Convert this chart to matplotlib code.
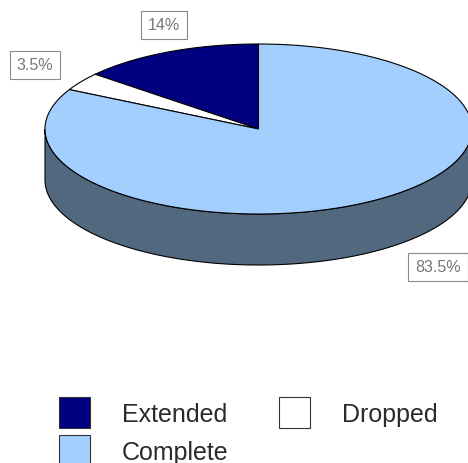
import matplotlib

matplotlib.use("Agg")

import matplotlib.pyplot as plt
import numpy as np
from matplotlib.patches import Polygon, Rectangle

categories = ["Extended", "Dropped", "Complete"]
shares = [14.0, 3.5, 83.5]
labels = ["14%", "3.5%", "83.5%"]
top_colors = ["#000080", "#ffffff", "#a3cfff"]
side_colors = ["#00004a", "#9a9a9a", "#52687f"]

# pie geometry in pixel units (y grows downwards)
cx, cy = 258.5, 130.0
rx, ry = 213.5, 85.0
depth = 51.0


def ellipse_pts(t0, t1, dy=0.0, n=200):
    t = np.radians(np.linspace(t0, t1, n))
    return np.column_stack([cx + rx * np.cos(t), cy - ry * np.sin(t) + dy])


fig = plt.figure(figsize=(4.68, 4.64), dpi=100)
ax = fig.add_axes([0, 0, 1, 1])
ax.set_xlim(0, 468)
ax.set_ylim(464, 0)
ax.axis("off")

# slice angles, counter-clockwise from twelve o'clock
# (rounded shares add up to 101, so normalise by the total)
frac = np.cumsum(shares) / np.sum(shares)
bounds = 90 + 360 * np.concatenate([[0], frac])

# visible side wall: front half (180..360 deg), split by slice
for i in range(len(shares)):
    a0, a1 = bounds[i], bounds[i + 1]
    for off in (0, 360, -360):
        s0, s1 = max(a0 + off, 180), min(a1 + off, 360)
        if s1 > s0:
            top = ellipse_pts(s0, s1)
            bot = ellipse_pts(s1, s0, dy=depth)
            ax.add_patch(Polygon(np.vstack([top, bot]), closed=True,
                                 facecolor=side_colors[i], edgecolor="black",
                                 linewidth=0.8, zorder=1))

# top face
for i in range(len(shares)):
    arc = ellipse_pts(bounds[i], bounds[i + 1])
    pts = np.vstack([[cx, cy], arc])
    ax.add_patch(Polygon(pts, closed=True, facecolor=top_colors[i],
                         edgecolor="black", linewidth=0.8, zorder=2))

# percentage boxes
label_pos = [(164, 26), (35, 66), (438, 268)]
for (x, y), txt in zip(label_pos, labels):
    ax.text(x, y, txt, ha="center", va="center", fontsize=11.5,
            family="Liberation Sans", color="#777777", zorder=3,
            bbox=dict(boxstyle="square,pad=0.42", facecolor="white",
                      edgecolor="#8a8a8a", linewidth=0.8))

# legend laid out on a two-column grid
legend_x0, legend_y0 = 59, 398
col_pitch, row_pitch = 220, 38
box = 31
for k, name in enumerate(categories):
    col, row = k % 2, k // 2
    x = legend_x0 + col * col_pitch
    y = legend_y0 + row * row_pitch
    ax.add_patch(Rectangle((x, y), box, box, facecolor=top_colors[k],
                           edgecolor="#333333", linewidth=0.8, zorder=3))
    ax.text(x + box + 32, y + box / 2 + 2, name, ha="left",
            va="center", fontsize=18, family="Liberation Sans",
            color="#2a2a2a", zorder=3)

fig.savefig("out.png", dpi=100)
plt.close(fig)
